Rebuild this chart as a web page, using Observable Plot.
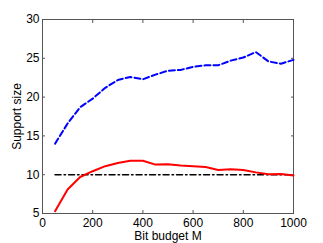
<!DOCTYPE html>
<html><head><meta charset="utf-8">
<script src="https://cdn.jsdelivr.net/npm/d3@7"></script>
<script src="https://cdn.jsdelivr.net/npm/@observablehq/plot@0.6"></script>
<style>body{margin:0;background:#fff;} svg{font-family:"Liberation Sans",Arial,sans-serif;}</style>
</head><body><div id="chart"></div>
<script>
const budgets = [50,100,150,200,250,300,350,400,450,500,550,600,650,700,750,800,850,900,950,1000];
const dashedBlue = [14.0,16.6,18.7,19.8,21.2,22.2,22.6,22.3,22.9,23.4,23.5,23.9,24.1,24.1,24.7,25.1,25.8,24.6,24.3,24.8];
const solidRed = [5.3,8.1,9.7,10.45,11.1,11.5,11.8,11.8,11.3,11.35,11.2,11.1,11.0,10.6,10.7,10.6,10.3,10.05,10.1,9.9];
const reference = [10,10];
const refX = [50,1000];
const xTicks = [0,200,400,600,800,1000];
const yTicks = [5,10,15,20,25,30];

const blue = budgets.map((x,i)=>({x, y: dashedBlue[i]}));
const red = budgets.map((x,i)=>({x, y: solidRed[i]}));
const ref = refX.map((x,i)=>({x, y: reference[i]}));
const axisColor = "#555";
const plain = d => String(d);
const blank = () => "";

const chart = Plot.plot({
  width: 323, height: 243,
  marginLeft: 42, marginRight: 30, marginTop: 19, marginBottom: 30,
  style: {fontSize: "12px", fontFamily: "Liberation Sans, Arial, sans-serif", color: "#000", background: "#fff"},
  x: {domain: [0,1000]},
  y: {domain: [5,30]},
  marks: [
    Plot.frame({stroke: axisColor}),
    Plot.axisX({ticks: xTicks, tickSize: -3, tickPadding: 8, tickFormat: plain, stroke: axisColor, fill: "#000", label: "Bit budget M", labelAnchor: "center", labelArrow: "none", labelOffset: 26.5}),
    Plot.axisX({anchor: "top", ticks: xTicks, tickSize: -3, tickFormat: blank, label: null, stroke: axisColor}),
    Plot.axisY({ticks: yTicks, tickSize: -3, tickPadding: 6, tickFormat: plain, stroke: axisColor, fill: "#000", label: "Support size", labelAnchor: "center", labelArrow: "none", labelOffset: 30}),
    Plot.axisY({anchor: "right", ticks: yTicks, tickSize: -3, tickFormat: blank, label: null, stroke: axisColor}),
    Plot.line(ref, {x: "x", y: "y", stroke: "#000", strokeWidth: 1.5, strokeDasharray: "6,3,1.5,3"}),
    Plot.line(blue, {x: "x", y: "y", stroke: "#0000ff", strokeWidth: 2, strokeDasharray: "6,3"}),
    Plot.line(red, {x: "x", y: "y", stroke: "#ff0000", strokeWidth: 2})
  ]
});
document.getElementById("chart").appendChild(chart);
</script></body></html>
